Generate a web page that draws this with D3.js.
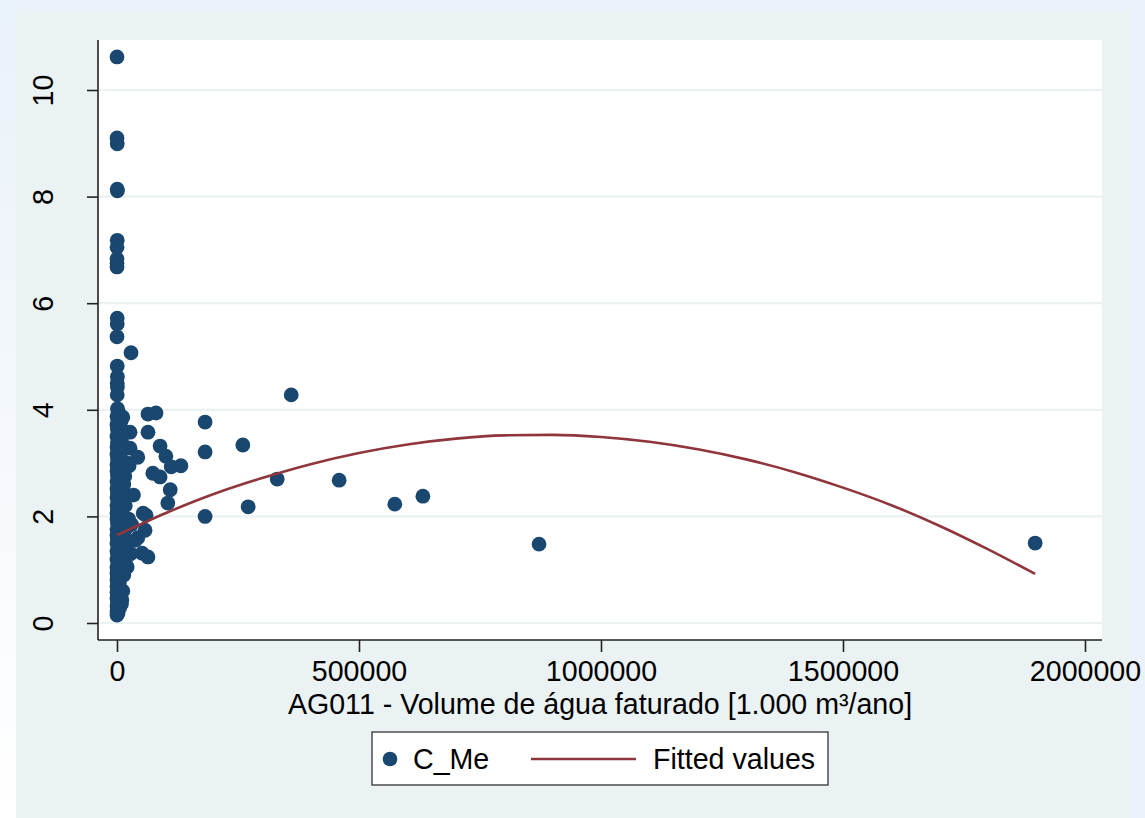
<!DOCTYPE html>
<html>
<head>
<meta charset="utf-8">
<script src="https://cdn.jsdelivr.net/npm/d3@7"></script>
<style>
  html, body { margin: 0; padding: 0; background: #eaf1f9; }
  svg { display: block; }
  text { font-family: "Liberation Sans", Arial, sans-serif; fill: #000; }
</style>
</head>
<body>
<svg id="chart" width="1145" height="818"></svg>
<script>
// ---- Data ----
// Scatter: C_Me against AG011 (volume, 1.000 m³/ano)
const volume = [
  0, 0, 500, 500, 800, 500, 0, 0, 0, 0, 500, 500, 0, 29000, 500, 800, 500, 800, 500,
  1000, 3000, 0, 5000, 2000, 8000, 0, 4000, 1000, 6000, 2000, 0, 9000, 3000, 1000, 5000, 0, 12000, 2000, 7000,
  0, 4000, 1000, 10000, 3000, 0, 6000, 2000, 15000, 0, 4000, 1000, 8000, 3000, 0, 5000, 2000, 11000,
  0, 6000, 1000, 3000, 0, 9000, 2000, 5000, 0, 13000, 1000, 4000, 0, 7000, 2000, 0, 5000, 1000,
  10000, 3000, 0, 6000, 2000, 0, 8000, 1000, 4000, 0, 12000, 2000, 5000, 0, 1000, 7000, 3000, 0,
  9000, 2000, 4000, 0, 1000, 6000, 0, 3000, 1000, 0, 5000, 2000, 0, 4000, 1000, 0, 7000, 2000, 0,
  10000, 1000, 3000, 0, 5000, 1000, 0, 2000, 0,
  20000, 27000, 18000, 22000, 25000, 16000, 14000, 20000, 17000, 24000, 19000, 15000, 21000, 18000,
  21000, 14000, 12000, 9000, 12000, 27000,
  360000, 80600, 64000, 182000, 64000, 260000, 89000, 101000, 43000, 182000, 112000, 132000,
  74000, 89000, 331000, 459000, 110000, 105000, 574000, 632000, 271000, 182000, 872000, 1897000,
  54000, 60000, 58000, 43000, 52000, 64000, 38000, 34000, 30000, 28000
];
const cme = [
  10.62, 9.10, 8.99, 8.14, 8.11, 7.18, 7.05, 6.83, 6.75, 6.68, 5.72, 5.61, 5.37, 5.07, 4.82, 4.62, 4.50, 4.43, 4.28,
  4.02, 3.95, 3.88, 3.85, 3.80, 3.78, 3.72, 3.68, 3.63, 3.60, 3.55, 3.50, 3.47, 3.42, 3.38, 3.34, 3.30, 3.28, 3.24, 3.20,
  3.16, 3.12, 3.08, 3.05, 3.01, 2.97, 2.93, 2.90, 2.88, 2.85, 2.81, 2.77, 2.74, 2.70, 2.66, 2.62, 2.58, 2.55,
  2.52, 2.48, 2.44, 2.40, 2.36, 2.33, 2.29, 2.25, 2.21, 2.18, 2.14, 2.10, 2.06, 2.03, 1.99, 1.95, 1.91, 1.87,
  1.84, 1.80, 1.76, 1.72, 1.68, 1.64, 1.61, 1.57, 1.53, 1.49, 1.46, 1.42, 1.38, 1.34, 1.30, 1.27, 1.23, 1.19,
  1.16, 1.12, 1.08, 1.04, 1.00, 0.97, 0.93, 0.89, 0.85, 0.81, 0.77, 0.73, 0.69, 0.65, 0.61, 0.57, 0.53, 0.50, 0.46,
  0.43, 0.40, 0.36, 0.32, 0.28, 0.25, 0.21, 0.18, 0.15,
  3.58, 3.28, 3.30, 3.00, 2.95, 2.75, 2.60, 2.40, 2.20, 1.95, 1.78, 1.60, 1.35, 1.10,
  1.05, 0.90, 0.60, 0.35, 3.86, 3.58,
  4.28, 3.94, 3.92, 3.77, 3.58, 3.34, 3.32, 3.13, 3.11, 3.21, 2.93, 2.95,
  2.81, 2.74, 2.70, 2.68, 2.50, 2.25, 2.23, 2.38, 2.18, 2.00, 1.48, 1.50,
  2.06, 2.02, 1.74, 1.60, 1.31, 1.24, 1.55, 2.40, 1.85, 1.30
];
// Fitted values (quadratic fit line)
const fitX = [0, 100000, 200000, 300000, 400000, 500000, 600000, 700000, 800000, 900000,
  1000000, 1100000, 1200000, 1300000, 1400000, 1500000, 1600000, 1700000, 1800000, 1897000];
const fitY = [1.65, 2.06, 2.42, 2.72, 2.98, 3.19, 3.35, 3.46, 3.52, 3.53,
  3.49, 3.40, 3.26, 3.07, 2.83, 2.54, 2.21, 1.82, 1.38, 0.92];
const xTicks = [0, 500000, 1000000, 1500000, 2000000];
const yTicks = [0, 2, 4, 6, 8, 10];
const xTitle = "AG011 - Volume de água faturado [1.000 m³/ano]";
const legendLabels = ["C_Me", "Fitted values"];

// ---- Layout ----
const svg = d3.select("#chart");
const W = 1145, H = 818;
const plot = { left: 98, right: 1102, top: 40, bottom: 640 };
const navy = "#1a476f", maroon = "#90353b", gridC = "#eaf2f3";
const FS = 28.6;

// left strip gradient
const defs = svg.append("defs");
const lg = defs.append("linearGradient").attr("id", "leftStrip").attr("x1", 0).attr("y1", 0).attr("x2", 0).attr("y2", 1);
lg.append("stop").attr("offset", "0%").attr("stop-color", "#e9f1f9");
lg.append("stop").attr("offset", "100%").attr("stop-color", "#ffffff");
svg.append("rect").attr("x", 0).attr("y", 0).attr("width", 16).attr("height", H).attr("fill", "url(#leftStrip)");

// graph region
svg.append("rect").attr("x", 16).attr("y", 10).attr("width", 1116).attr("height", H - 10).attr("fill", "#eaf2f3");
// plot region
svg.append("rect").attr("x", plot.left).attr("y", plot.top)
  .attr("width", plot.right - plot.left).attr("height", plot.bottom - plot.top).attr("fill", "#ffffff");

const x = d3.scaleLinear().domain([0, 2000000]).range([117, 1085]);
const y = d3.scaleLinear().domain([0, 10]).range([623, 90]);

// gridlines
svg.append("g").selectAll("line").data(yTicks).join("line")
  .attr("x1", plot.left).attr("x2", plot.right)
  .attr("y1", d => y(d)).attr("y2", d => y(d))
  .attr("stroke", gridC).attr("stroke-width", 2.2);

// scatter
const pts = volume.map((v, i) => ({ x: v, y: cme[i] }));
svg.append("g").selectAll("circle").data(pts).join("circle")
  .attr("cx", d => x(d.x)).attr("cy", d => y(d.y)).attr("r", 7.4)
  .attr("fill", navy);

// fitted line
const fit = fitX.map((v, i) => [v, fitY[i]]);
svg.append("path").datum(fit)
  .attr("d", d3.line().x(d => x(d[0])).y(d => y(d[1])).curve(d3.curveMonotoneX))
  .attr("fill", "none").attr("stroke", maroon).attr("stroke-width", 2.6);

// x axis
const xAxis = svg.append("g").attr("transform", `translate(0,${plot.bottom})`)
  .call(d3.axisBottom(x).tickValues(xTicks).tickFormat(d3.format("d")).tickSize(12).tickSizeOuter(0).tickPadding(9));
xAxis.select(".domain").attr("d", `M${plot.left},0H${plot.right}`).attr("stroke", "#222").attr("stroke-width", 1.6);
xAxis.selectAll(".tick line").attr("stroke", "#222").attr("stroke-width", 1.6);
xAxis.selectAll(".tick text").attr("font-size", FS).attr("font-family", "Liberation Sans, Arial, sans-serif").attr("fill", "#000");

// y axis
const yAxis = svg.append("g").attr("transform", `translate(${plot.left},0)`)
  .call(d3.axisLeft(y).tickValues(yTicks).tickSize(11).tickSizeOuter(0));
yAxis.select(".domain").attr("d", `M0,${plot.top}V${plot.bottom}`).attr("stroke", "#222").attr("stroke-width", 1.6);
yAxis.selectAll(".tick line").attr("stroke", "#222").attr("stroke-width", 1.6);
yAxis.selectAll(".tick text")
  .attr("x", null).attr("dy", null)
  .attr("transform", "translate(-45,0) rotate(-90)")
  .attr("text-anchor", "middle")
  .attr("font-size", FS).attr("font-family", "Liberation Sans, Arial, sans-serif").attr("fill", "#000");

// x title
svg.append("text").attr("x", (plot.left + plot.right) / 2).attr("y", 714)
  .attr("text-anchor", "middle").attr("font-size", FS).text(xTitle);

// legend
const leg = svg.append("g");
leg.append("rect").attr("x", 372).attr("y", 732).attr("width", 456).attr("height", 53)
  .attr("fill", "#fff").attr("stroke", "#333").attr("stroke-width", 1.3);
leg.append("circle").attr("cx", 390).attr("cy", 759).attr("r", 7.3).attr("fill", navy);
leg.append("text").attr("x", 413).attr("y", 769).attr("font-size", FS).text(legendLabels[0]);
leg.append("line").attr("x1", 531).attr("x2", 636).attr("y1", 759).attr("y2", 759)
  .attr("stroke", maroon).attr("stroke-width", 2.6);
leg.append("text").attr("x", 653).attr("y", 769).attr("font-size", FS).text(legendLabels[1]);
</script>
</body>
</html>
